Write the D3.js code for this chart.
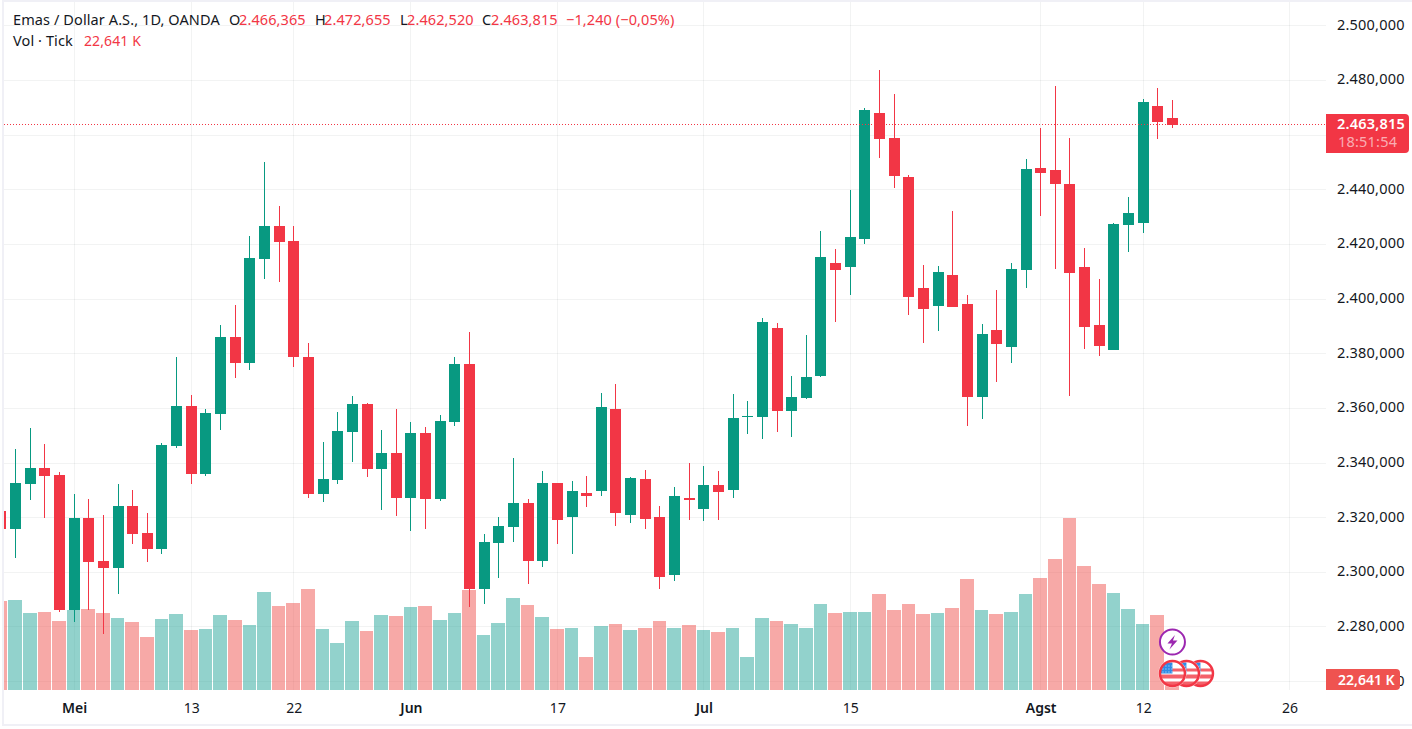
<!DOCTYPE html>
<html>
<head>
<meta charset="utf-8">
<title>Emas / Dollar A.S.</title>
<script src="https://cdn.jsdelivr.net/npm/d3@7"></script>
<style>
  html, body { margin: 0; padding: 0; background: #fff; overflow: hidden; }
  text { font-family: "Noto Sans", "Open Sans", sans-serif; }
</style>
</head>
<body>
<script>
// daily candles, 24 Apr - 14 Aug
const open = [2322.5,2315.9,2332.4,2338.2,2335.7,2286.3,2320.0,2304.2,2301.7,2324.4,2314.5,2308.6,2346.3,2360.9,2336.1,2358.0,2386.1,2376.6,2414.7,2426.7,2421.2,
  2378.8,2328.7,2333.9,2351.4,2361.6,2337.9,2343.7,2327.3,2351.0,2326.9,2355.1,2376.3,2294.0,2310.8,2316.7,2325.5,2304.2,2332.8,2320.3,2329.1,
  2329.8,2359.8,2321.1,2334.2,2320.3,2298.8,2327.3,2323.3,2332.0,2330.2,2356.9,2356.9,2389.4,2359.1,2363.8,2371.9,2413.2,2411.7,2422.0,2468.0,
  2458.9,2444.6,2404.1,2397.5,2408.8,2398.2,2364.2,2388.7,2382.5,2410.6,2447.9,2447.2,2442.1,2411.7,2390.5,2381.4,2427.1,2427.8,2470.6,2466.365];
const high = [2322.5,2345.2,2352.9,2347.0,2336.8,2328.7,2326.9,2321.1,2332.4,2330.2,2321.8,2347.4,2378.8,2364.9,2359.8,2390.5,2397.8,2423.1,2450.1,2434.0,2426.7,
  2384.0,2347.8,2358.7,2364.6,2362.0,2352.1,2359.8,2355.1,2353.2,2357.6,2378.8,2388.0,2314.1,2320.3,2341.9,2326.9,2337.2,2332.8,2333.5,2335.3,
  2365.7,2369.0,2335.0,2337.5,2324.4,2331.3,2340.1,2339.0,2337.2,2365.3,2362.7,2393.1,2391.3,2371.9,2386.9,2424.9,2418.3,2439.9,2469.9,2483.8,
  2475.0,2445.4,2412.5,2412.1,2432.2,2401.5,2390.9,2403.3,2413.2,2451.2,2462.6,2477.9,2458.9,2418.7,2407.4,2427.8,2437.3,2473.2,2477.2,2472.655];
const low = [2315.9,2305.3,2326.5,2320.0,2285.6,2281.9,2286.0,2277.5,2292.2,2310.5,2303.9,2306.8,2345.6,2332.4,2335.3,2352.1,2371.2,2374.1,2407.4,2406.3,2375.2,
  2327.3,2325.8,2332.4,2340.4,2335.0,2322.9,2320.7,2315.2,2315.9,2326.2,2353.6,2287.1,2288.2,2298.0,2311.2,2295.8,2302.0,2310.5,2306.8,2324.0,
  2328.0,2317.0,2318.1,2315.9,2294.0,2296.9,2319.2,2318.9,2319.2,2327.3,2350.7,2348.8,2351.4,2349.6,2363.5,2371.5,2391.6,2401.5,2420.1,2451.6,
  2440.6,2394.2,2384.0,2388.3,2397.1,2353.6,2356.2,2369.7,2376.6,2404.1,2430.4,2411.0,2364.6,2381.8,2379.2,2381.4,2417.2,2424.2,2458.5,2462.52];
const close = [2315.9,2332.8,2338.2,2335.3,2286.3,2320.0,2303.9,2301.7,2324.4,2314.1,2308.6,2346.7,2360.9,2336.1,2358.4,2386.1,2376.6,2415.0,2426.7,2420.9,2378.8,
  2328.7,2334.2,2351.8,2361.6,2337.9,2343.7,2327.3,2351.0,2326.9,2355.4,2376.3,2294.0,2311.2,2317.0,2325.5,2304.2,2332.8,2319.2,2329.8,2328.0,
  2360.5,2321.8,2334.6,2319.6,2298.4,2328.0,2326.5,2332.0,2329.5,2356.5,2357.3,2391.6,2359.1,2364.2,2371.5,2415.4,2410.6,2422.7,2469.1,2458.5,
  2445.0,2400.8,2396.4,2409.9,2397.1,2364.2,2387.2,2383.6,2411.0,2447.6,2446.1,2442.1,2409.5,2389.8,2382.9,2427.5,2431.5,2472.1,2464.8,2463.815];
// tick volume in thousands
const volume = [224,226,194,196,174,201,204,194,181,171,133,179,191,151,153,189,176,164,247,211,219,
  254,153,118,174,148,189,186,209,211,176,194,252,138,169,231,214,184,153,156,83,
  161,166,151,156,174,156,164,151,146,156,83,181,174,166,156,216,194,196,196,242,
  201,216,191,194,206,279,201,191,196,242,282,330,433,312,267,244,204,166,189,22.641];

const priceTicks = [2260,2280,2300,2320,2340,2360,2380,2400,2420,2440,2460,2480,2500];
const hiddenPriceTick = 2460; // sits under the last price tag
const dateTicks = [5,13,20,28,38,48,58,71,78,88];
const dateLabels = ['Mei','13','22','Jun','17','Jul','15','Agst','12','26'];
const monthLabels = ['Mei','Jun','Jul','Agst'];
const eventOffsets = [2,1,0];

const width = 1412, height = 729;
const plotLeft = 4, plotRight = 1326, plotBottom = 690;
const green = '#089981', red = '#f23645', dark = '#131722', gridColor = 'rgba(42,46,57,0.06)';

const locale = d3.formatLocale({ decimal: ',', thousands: '.', grouping: [3] });
const price = locale.format(',.3f');

const x = d3.scaleLinear().domain([0, 88]).range([0.9, 1289.6]);
const y = d3.scaleLinear().domain([2260, 2500]).range([681.5, 25.7]);
const yVol = d3.scaleLinear().domain([0, 433]).range([plotBottom, 518]);
const rowY = v => Math.floor(y(v) + 0.1) + 0.5;

const svg = d3.select('body').append('svg')
  .attr('width', width)
  .attr('height', height)
  .style('display', 'block');

svg.append('clipPath').attr('id', 'plot')
  .append('rect')
  .attr('x', plotLeft).attr('y', 0)
  .attr('width', plotRight - plotLeft).attr('height', plotBottom);

// frame
svg.append('rect').attr('x', 2).attr('y', 0).attr('width', width - 2).attr('height', 2).attr('fill', '#f0f0f6');
svg.append('rect').attr('x', 2).attr('y', 0).attr('width', 2).attr('height', 726).attr('fill', '#f0f0f6');
svg.append('rect').attr('x', 2).attr('y', 724).attr('width', width - 2).attr('height', 2).attr('fill', '#f0f0f6');

// grid
const grid = svg.append('g').attr('shape-rendering', 'crispEdges');
grid.selectAll('.h').data(priceTicks).enter().append('line')
  .attr('x1', plotLeft).attr('x2', plotRight)
  .attr('y1', rowY).attr('y2', rowY)
  .attr('stroke', gridColor);
grid.selectAll('.v').data(dateTicks).enter().append('line')
  .attr('x1', d => Math.floor(x(d)) + 0.5).attr('x2', d => Math.floor(x(d)) + 0.5)
  .attr('y1', 2).attr('y2', plotBottom)
  .attr('stroke', gridColor);

const idx = d3.range(open.length);
const up = i => close[i] >= open[i];

// volume sits under the candles
svg.append('g').attr('clip-path', 'url(#plot)').attr('shape-rendering', 'crispEdges')
  .selectAll('rect').data(idx).enter().append('rect')
  .attr('x', i => Math.round(x(i) - 7.32))
  .attr('width', i => Math.round(x(i + 1) - 7.32) - Math.round(x(i) - 7.32) - 1)
  .attr('y', i => Math.round(yVol(volume[i])))
  .attr('height', i => plotBottom - Math.round(yVol(volume[i])))
  .attr('fill', i => up(i) ? 'rgba(38,166,154,0.5)' : 'rgba(239,83,80,0.5)');

const candles = svg.append('g').attr('clip-path', 'url(#plot)').attr('shape-rendering', 'crispEdges')
  .selectAll('g').data(idx).enter().append('g')
  .attr('fill', i => up(i) ? green : red);
candles.append('rect')
  .attr('x', i => Math.floor(x(i)))
  .attr('width', 1)
  .attr('y', i => Math.round(y(high[i])))
  .attr('height', i => Math.round(y(low[i])) - Math.round(y(high[i])));
candles.append('rect')
  .attr('x', i => Math.floor(x(i)) - 5)
  .attr('width', 11)
  .attr('y', i => Math.round(y(Math.max(open[i], close[i]))))
  .attr('height', i => Math.max(1, Math.round(y(Math.min(open[i], close[i]))) - Math.round(y(Math.max(open[i], close[i])))));

// last price line
const lastClose = close[close.length - 1];
svg.append('line')
  .attr('x1', plotLeft).attr('x2', plotRight)
  .attr('y1', Math.floor(y(lastClose)) + 0.5).attr('y2', Math.floor(y(lastClose)) + 0.5)
  .attr('stroke', red).attr('stroke-dasharray', '1 2')
  .attr('shape-rendering', 'crispEdges');

// axes
const yAxis = d3.axisRight(y)
  .tickValues(priceTicks.filter(d => d !== hiddenPriceTick))
  .tickSize(0).tickPadding(0).tickFormat(price);
const yG = svg.append('g').attr('transform', `translate(${plotRight + 11},0)`).call(yAxis);
yG.select('.domain').remove();
yG.selectAll('text')
  .attr('y', -1)
  .attr('font-size', 14.5)
  .attr('letter-spacing', 0.2)
  .attr('fill', dark)
  .style('font-family', '"Noto Sans", sans-serif');

const xAxis = d3.axisBottom(x).tickValues(dateTicks).tickSize(0).tickPadding(0).tickFormat((d, i) => dateLabels[i]);
const xG = svg.append('g').attr('transform', `translate(0,${plotBottom + 13})`).call(xAxis);
xG.select('.domain').remove();
xG.selectAll('text')
  .attr('font-size', 14)
  .attr('fill', dark)
  .attr('font-weight', (d, i) => monthLabels.includes(dateLabels[i]) ? 600 : 400)
  .style('font-family', '"Noto Sans", sans-serif');

// price and volume tags on the axis
const tags = svg.append('g');
tags.append('path')
  .attr('d', 'M1326,114H1405a4,4 0 0 1 4,4V149a4,4 0 0 1 -4,4H1326Z')
  .attr('fill', red);
tags.append('text').attr('x', plotRight + 11).attr('y', 129)
  .attr('font-size', 14.5).attr('font-weight', 600).attr('letter-spacing', 0.2).attr('fill', '#fff').text(price(lastClose));
tags.append('text').attr('x', plotRight + 12).attr('y', 147)
  .attr('font-size', 14.5).attr('letter-spacing', 0.2).attr('fill', 'rgba(255,255,255,0.6)').text('18:51:54');
tags.append('path')
  .attr('d', 'M1326,669H1396a4,4 0 0 1 4,4V686a4,4 0 0 1 -4,4H1326Z')
  .attr('fill', '#ef5350');
tags.append('text').attr('x', plotRight + 12).attr('y', 685)
  .attr('font-size', 14).attr('font-weight', 600).attr('fill', '#fff').text('22,641 K');

// legend
const legend = svg.append('g').attr('font-size', 14.5).attr('letter-spacing', 0.1);
const n = close.length - 1;
const row1 = [
  [13, 'Emas / Dollar A.S., 1D, OANDA', dark],
  [229, 'O', dark], [239, price(open[n]), red],
  [315, 'H', dark], [324, price(high[n]), red],
  [400, 'L', dark], [407, price(low[n]), red],
  [482, 'C', dark], [491, price(close[n]), red],
  [566, '\u22121,240 (\u22120,05%)', red]
];
legend.selectAll('.r1').data(row1).enter().append('text')
  .attr('x', d => d[0]).attr('y', 25).attr('fill', d => d[2]).text(d => d[1]);
legend.append('text').attr('x', 13).attr('y', 46).attr('fill', dark).text('Vol \u00b7 Tick');
legend.append('text').attr('x', 84).attr('y', 46).attr('font-size', 14).attr('fill', red).text('22,641 K');

// event markers next to the last bar
const eventX = x(n);
const defs = svg.append('defs');
defs.append('clipPath').attr('id', 'flag').append('circle').attr('r', 12);

const bolt = svg.append('g').attr('transform', `translate(${eventX},642)`);
bolt.append('circle').attr('r', 12.5).attr('fill', '#fff').attr('stroke', '#9c27b0').attr('stroke-width', 2);
bolt.append('path').attr('d', 'M2.5,-7L-5,1.5H-0.5L-3,7.5L5,-1.5H0.5Z').attr('fill', '#9c27b0');

const flags = svg.selectAll('.flag').data(eventOffsets).enter().append('g')
  .attr('transform', d => `translate(${eventX + d * 14},673.5)`);
flags.append('circle').attr('r', 14).attr('fill', '#fff').attr('opacity', 0.9);
flags.append('circle').attr('r', 12).attr('fill', '#fff');
const inner = flags.append('g').attr('clip-path', 'url(#flag)');
inner.append('rect').attr('x', -13).attr('y', -5).attr('width', 26).attr('height', 3).attr('fill', '#f4616a');
inner.append('rect').attr('x', -13).attr('y', 1).attr('width', 26).attr('height', 4).attr('fill', '#f4616a');
inner.append('rect').attr('x', -13).attr('y', 8).attr('width', 26).attr('height', 4).attr('fill', '#f4616a');
inner.append('rect').attr('x', -13).attr('y', -11).attr('width', 13).attr('height', 11).attr('fill', '#2f8be6');
d3.range(-10, 0, 3).forEach(cx => d3.range(-8, 0, 3).forEach(cy => {
  inner.append('rect').attr('x', cx).attr('y', cy).attr('width', 1).attr('height', 1).attr('fill', '#cfe4fa');
}));
flags.append('circle').attr('r', 12.5).attr('fill', 'none').attr('stroke', '#f23645').attr('stroke-width', 2.5);
</script>
</body>
</html>
